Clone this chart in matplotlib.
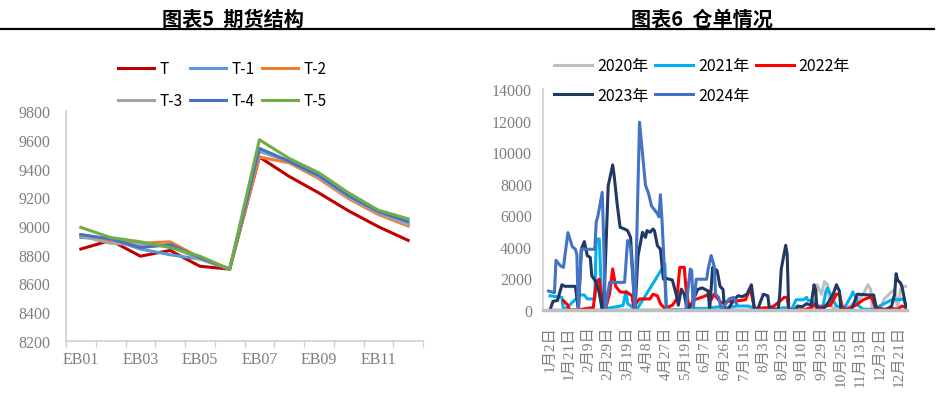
import numpy as np
import matplotlib.pyplot as plt
from matplotlib.lines import Line2D

plt.rcParams['font.family'] = ['Noto Sans CJK SC', 'DejaVu Sans']

# ---- left chart: futures curve ----
contracts = ['EB01', 'EB02', 'EB03', 'EB04', 'EB05', 'EB06',
             'EB07', 'EB08', 'EB09', 'EB10', 'EB11', 'EB12']
t0 = [8840, 8900, 8790, 8830, 8720, 8700, 9480, 9345, 9230, 9105, 8995, 8900]
t1 = [8920, 8910, 8840, 8800, 8770, 8700, 9520, 9450, 9340, 9200, 9090, 9010]
t2 = [8940, 8900, 8880, 8890, 8780, 8700, 9480, 9440, 9330, 9190, 9080, 9000]
t3 = [8930, 8880, 8870, 8860, 8770, 8700, 9530, 9450, 9340, 9200, 9090, 9010]
t4 = [8940, 8910, 8850, 8870, 8780, 8700, 9540, 9450, 9350, 9210, 9100, 9030]
t5 = [8990, 8920, 8890, 8850, 8790, 8700, 9600, 9470, 9370, 9230, 9110, 9050]
curve_names = ['T', 'T-1', 'T-2', 'T-3', 'T-4', 'T-5']
curve_colors = ['#C00000', '#5B9BD5', '#ED7D31', '#A5A5A5', '#4472C4', '#70AD47']

# ---- right chart: warehouse receipts (x = trading day of year) ----
date_labels = ['1月2日', '1月21日', '2月9日', '2月29日', '3月19日', '4月8日',
               '4月27日', '5月19日', '6月7日', '6月26日', '7月15日', '8月3日',
               '8月22日', '9月10日', '9月29日', '10月25日', '11月13日',
               '12月2日', '12月21日']

x2020 = [0, 177, 179, 182, 184, 186, 188, 192, 196, 202, 207, 210, 213, 215,
         216, 221, 224, 229, 231, 233, 235, 237, 239]
y2020 = [0, 0, 1600, 1000, 1800, 1600, 300, 0, 0, 300, 700, 1000, 1600, 1300,
         0, 0, 700, 1150, 1300, 100, 1300, 1500, 1500]

x2021 = [0, 8, 9, 13, 20, 23, 25, 30, 31, 33, 35, 38, 47, 49, 51, 52, 58, 77,
         78, 91, 95, 104, 109, 113, 119, 125, 133, 137, 142, 154, 157, 162,
         165, 170, 172, 173, 176, 178, 183, 185, 186, 188, 190, 192, 196, 198,
         202, 203, 205, 207, 210, 217, 223, 229, 234, 237, 239]
y2021 = [900, 800, 0, 300, 950, 950, 700, 700, 4500, 4500, 0, 100, 250, 300,
         1200, 400, 0, 2900, 0, 0, 100, 100, 150, 200, 150, 250, 250, 100, 50,
         100, 150, 50, 650, 650, 800, 600, 600, 250, 250, 1200, 1400, 1000,
         600, 250, 150, 250, 900, 1150, 800, 250, 50, 50, 350, 650, 650, 700,
         200]

x2022 = [9, 12, 13, 18, 25, 29, 31, 33, 35, 37, 40, 42, 44, 47, 52, 55, 56,
         60, 67, 69, 72, 74, 76, 77, 82, 85, 87, 90, 91, 93, 95, 97, 100, 103,
         105, 108, 110, 112, 115, 119, 124, 131, 134, 135, 137, 147, 150, 154,
         157, 159, 160, 170, 175, 178, 180, 185, 188, 192, 194, 196, 199, 205,
         210, 214, 216, 218, 224, 229, 233, 236, 239]
y2022 = [590, 300, 0, 0, 100, 150, 1750, 1950, 500, 0, 1060, 2600, 1500,
         1150, 1100, 900, 200, 700, 700, 1000, 900, 400, 200, 100, 300, 700,
         2700, 2700, 1500, 250, 400, 650, 750, 850, 950, 650, 1000, 750, 450,
         550, 550, 650, 1300, 1050, 100, 150, 250, 550, 800, 800, 0, 0, 150,
         400, 150, 250, 300, 1000, 1000, 150, 50, 300, 650, 800, 750, 150, 50,
         100, 50, 250, 150]

x2023 = [0, 2, 5, 8, 10, 17, 19, 21, 23, 25, 27, 28, 31, 33, 35, 36, 39, 40,
         42, 43, 45, 47, 50, 52, 54, 57, 59, 62, 64, 65, 67, 69, 70, 72, 74,
         76, 78, 82, 85, 86, 88, 90, 92, 95, 99, 102, 106, 107, 109, 112, 114,
         116, 117, 119, 123, 126, 129, 132, 135, 137, 139, 143, 146, 147, 153,
         154, 155, 158, 159, 160, 164, 166, 169, 172, 175, 177, 178, 179, 184,
         187, 190, 192, 194, 195, 202, 206, 214, 217, 219, 225, 229, 231, 232,
         233, 235, 236, 239]
y2023 = [0, 550, 600, 1600, 1500, 1500, 0, 3860, 4330, 3440, 3330, 2170,
         1750, 1080, 0, 0, 7880, 8300, 9190, 8510, 6720, 5240, 5130, 5030,
         4600, 0, 3440, 4920, 4600, 5030, 4920, 5130, 5030, 4070, 3860, 1960,
         2000, 1900, 840, 300, 1320, 1000, 0, 400, 1300, 1400, 1200, 0, 2700,
         2500, 1500, 1300, 0, 0, 600, 900, 850, 1000, 1600, 100, 0, 1000, 900,
         100, 0, 1000, 2600, 4100, 3500, 0, 0, 250, 200, 400, 300, 1600, 1300,
         0, 150, 550, 1050, 1600, 1200, 0, 0, 1000, 950, 950, 0, 0, 250, 1000,
         2300, 1900, 1700, 1450, 0]

x2024 = [-1, 3, 4, 7, 9, 12, 15, 17, 18, 19, 21, 30, 31, 32, 35, 36, 37, 40,
         50, 52, 54, 57, 60, 64, 66, 68, 72, 73, 74, 75, 78, 91, 94, 95, 96,
         98, 105, 106, 108, 110, 111, 113, 115, 120, 123, 125]
y2024 = [1200, 1100, 3150, 2800, 2700, 4900, 4000, 3850, 3500, 0, 3850, 3850,
         5600, 5900, 7450, 4400, 0, 1750, 1750, 4400, 4000, 0, 11900, 7900,
         7400, 6600, 6100, 5900, 7300, 5800, 0, 0, 2600, 2500, 0, 1950, 1950,
         2600, 3450, 2800, 1000, 800, 0, 700, 800, 400]

year_names = ['2020年', '2021年', '2022年', '2023年', '2024年']
year_colors = ['#BFBFBF', '#00B0F0', '#FF0000', '#203864', '#4472C4']

serif = ['Liberation Serif', 'Noto Sans CJK SC']
tick_gray = '#7F7F7F'
spine_gray = '#D0D0D0'

fig = plt.figure(figsize=(9.52, 4.06), dpi=100)
W, H = 952.0, 406.0

# titles and the rule under them
fig.text(233 / W, 1 - 19 / H, '图表5  期货结构', ha='center', va='center',
         fontsize=14.5, fontweight='bold')
fig.text(702 / W, 1 - 19 / H, '图表6  仓单情况', ha='center', va='center',
         fontsize=14.5, fontweight='bold')
fig.add_artist(Line2D([0, 934 / W], [1 - 30 / H] * 2, color='black', lw=1.6))

# left chart
ax1 = fig.add_axes([66 / W, 1 - 342 / H, (423 - 66) / W, (342 - 112) / H])
xs = np.arange(len(contracts))
lines1 = []
for vals, name, c in zip([t0, t1, t2, t3, t4, t5], curve_names, curve_colors):
    ln, = ax1.plot(xs, vals, color=c, lw=2.2, label=name)
    lines1.append(ln)
ax1.set_xlim(-0.5, len(contracts) - 0.5)
ax1.set_ylim(8200, 9800)
ax1.set_yticks(np.arange(8200, 9801, 200))
ax1.set_xticks(xs[::2])
ax1.set_xticklabels(contracts[::2])
ax1.set_xticks(np.arange(-0.5, len(contracts), 1), minor=True)
ax1.tick_params(axis='x', which='minor', length=4, color=spine_gray, width=1)
ax1.tick_params(axis='x', which='major', length=0, pad=7)
ax1.tick_params(axis='y', length=0, pad=11)
ax1.tick_params(axis='both', which='major', labelsize=11.5,
                labelcolor=tick_gray, labelfontfamily='Liberation Serif')
for s in ['top', 'right']:
    ax1.spines[s].set_visible(False)
for s in ['left', 'bottom']:
    ax1.spines[s].set_color(spine_gray)
    ax1.spines[s].set_linewidth(1.2)
# legend filled row by row like the original
order1 = [0, 3, 1, 4, 2, 5]
ax1.legend([lines1[i] for i in order1], [curve_names[i] for i in order1],
           ncol=3, loc='center', bbox_to_anchor=(222 / W, 1 - 85.5 / H),
           bbox_transform=fig.transFigure, frameon=False, fontsize=11,
           handlelength=2.4, handletextpad=0.3, columnspacing=0.5,
           labelspacing=1.0)

# right chart
ax2 = fig.add_axes([543 / W, 1 - 311 / H, (907 - 543) / W, (311 - 90) / H])
series = [(x2020, y2020), (x2021, y2021), (x2022, y2022),
          (x2023, y2023), (x2024, y2024)]
lines2 = []
for (xv, yv), name, c in zip(series, year_names, year_colors):
    ln, = ax2.plot(xv, yv, color=c, lw=2.2, label=name)
    lines2.append(ln)
ax2.set_xlim(-4.7, 239.3)
ax2.set_ylim(0, 14000)
ax2.set_yticks(np.arange(0, 14001, 2000))
ax2.set_xticks(np.arange(len(date_labels)) * 13)
ax2.set_xticklabels(date_labels, rotation=90)
ax2.tick_params(axis='x', length=0, pad=11, labelsize=11,
                labelcolor=tick_gray, labelfontfamily=serif)
ax2.tick_params(axis='y', length=0, pad=8, labelsize=11.5,
                labelcolor=tick_gray, labelfontfamily='Liberation Serif')
for s in ['top', 'right']:
    ax2.spines[s].set_visible(False)
ax2.spines['left'].set_color(spine_gray)
ax2.spines['left'].set_linewidth(1.2)
ax2.spines['bottom'].set_color('#BFBFBF')
ax2.spines['bottom'].set_linewidth(2.5)
order2 = [0, 3, 1, 4, 2]
ax2.legend([lines2[i] for i in order2], [year_names[i] for i in order2],
           ncol=3, loc='center', bbox_to_anchor=(702 / W, 1 - 81.5 / H),
           bbox_transform=fig.transFigure, frameon=False, fontsize=11.5,
           handlelength=2.4, handletextpad=0.3, columnspacing=0.4,
           labelspacing=0.8)

fig.savefig('out.png', dpi=100)
